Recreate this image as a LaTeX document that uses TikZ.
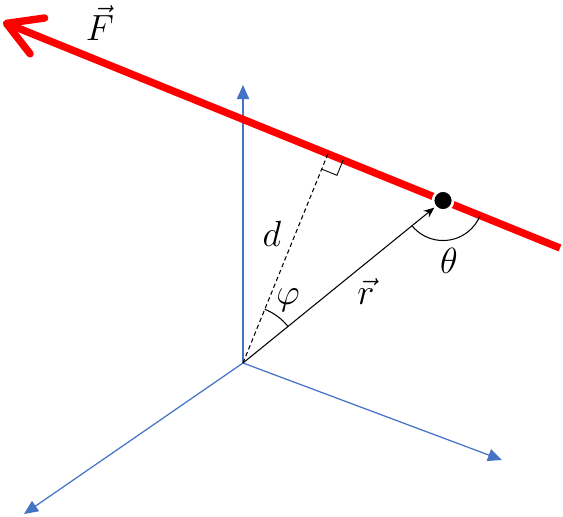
\documentclass[tikz,border=0pt]{standalone}
\usepackage{tikz}
\usetikzlibrary{arrows.meta,calc}
\definecolor{axisblue}{RGB}{68,114,196}

\begin{document}
\begin{tikzpicture}[x=0.02cm,y=0.02cm,
    axis/.style={color=axisblue, line width=0.7pt, -{Triangle[length=8pt,width=7pt]}},
    force/.style={color=red, line width=4.2pt, -{Straight Barb[round,length=19pt,width=22pt]}}]
      \fontsize{20}{24}\selectfont
      \useasboundingbox (0,0) rectangle (563,516);

      % axes
      \coordinate (O) at (243,153);
      \coordinate (zaxis) at (243,431);
      \coordinate (xaxis) at (24,2);
      \coordinate (yaxis) at (502,56);
      \draw[axis] (O) -- (zaxis);
      \draw[axis] (O) -- (xaxis);
      \draw[axis] (O) -- (yaxis);

      % line of action of the force
      \coordinate (E) at (560,268);
      \coordinate (T) at (3,494);
      \draw[force] (E) -- (T);
      \node (Flabel) at (100,493) {$\vec{F}$};

      % point of application
      \node[circle, fill=black, draw=white, line width=1.5pt, inner sep=0pt,
            minimum size=0.4cm] (P) at ($(E)!0.21!(T)$) {};
      \draw[line width=0.6pt, -{Stealth[length=6pt,width=5pt]}] (O) -- (P);
      \node (rlabel) at (366,224) {$\vec{r}$};

      % lever arm
      \coordinate (foot) at ($(E)!(O)!(T)$);
      \draw[line width=0.6pt, dash pattern=on 2.5pt off 1.7pt] (O) -- (foot);
      \node (dlabel) at (272,282) {$d$};
      \coordinate (m1) at ($(foot)!0.33cm!(O)$);
      \coordinate (m2) at ($(foot)!0.33cm!(E)$);
      \draw[line width=0.5pt] (m1) -- ($(m1)+(m2)-(foot)$) -- (m2);

      % angles
      \draw[line width=0.6pt] (P) ++(219.1:40) arc[start angle=219.1, end angle=337.6, radius=40];
      \node (thlabel) at (449,255) {$\theta$};
      \draw[line width=0.6pt] (O) ++(39.1:58) arc[start angle=39.1, end angle=67.9, radius=58];
      \node (philabel) at (288,216) {$\varphi$};
\end{tikzpicture}
\end{document}
